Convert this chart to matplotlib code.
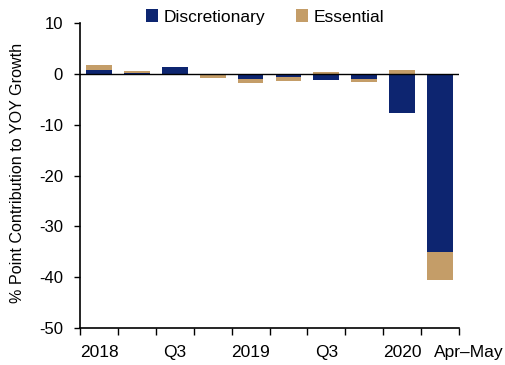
import numpy as np
import matplotlib.pyplot as plt
from matplotlib.transforms import ScaledTranslation

plt.rcParams['font.family'] = ['Liberation Sans', 'DejaVu Sans']
plt.rcParams['font.size'] = 12
plt.rcParams['axes.unicode_minus'] = False

periods = ["2018 Q1", "2018 Q2", "2018 Q3", "2018 Q4", "2019 Q1", "2019 Q2",
           "2019 Q3", "2019 Q4", "2020 Q1", "Apr-May"]
tick_labels = ["2018", "", "Q3", "", "2019", "", "Q3", "", "2020", "Apr\u2013May"]
discretionary = [0.9, 0.2, 1.3, -0.2, -1.0, -0.6, -1.1, -0.9, -7.7, -35.0]
essential = [0.8, 0.4, 0.0, -0.5, -0.8, -0.8, 0.5, -0.6, 0.9, -5.5]

navy = "#0D2570"
tan = "#C49D68"

disc = np.array(discretionary)
ess = np.array(essential)
# stack each series on its own side of zero
ess_base = np.where((ess >= 0) == (disc >= 0), disc, 0.0)

fig = plt.figure(figsize=(5.05, 3.65), dpi=100)
ax = fig.add_axes([80 / 505, 1 - 328 / 365, 379 / 505, (328 - 23.3) / 365])

x = np.arange(len(periods))
ax.bar(x, disc, width=0.68, color=navy, label="Discretionary", zorder=2)
ax.bar(x, ess, width=0.68, bottom=ess_base, color=tan, label="Essential", zorder=2)
ax.axhline(0, color="black", lw=1, zorder=3)

ax.set_xlim(-0.5, len(periods) - 0.5)
ax.set_ylim(-50, 10)
ax.set_yticks(np.arange(-50, 11, 10))
ax.set_xticks(x)
ax.set_xticklabels(tick_labels, fontsize=12.5)
ax.set_xticks(np.arange(-0.5, len(periods), 1), minor=True)
ax.tick_params(axis="x", which="major", length=0, pad=12)
ax.tick_params(axis="x", which="minor", length=5, width=1)
ax.tick_params(axis="y", length=4.3, width=1, pad=8)

# last label sits to the right of its slot so it clears "2020"
last = ax.get_xticklabels()[-1]
last.set_ha("left")
last.set_transform(last.get_transform() + ScaledTranslation(-6 / 100, 0, fig.dpi_scale_trans))

for side in ["top", "right"]:
    ax.spines[side].set_visible(False)
for side in ["left", "bottom"]:
    ax.spines[side].set_linewidth(1.2)

ax.set_ylabel("% Point Contribution to YOY Growth", fontsize=11.6)
ax.yaxis.set_label_coords(-0.145, 0.51)

fig.legend(loc="center", bbox_to_anchor=(265 / 505, 1 - 17 / 365), ncol=2,
           frameon=False, fontsize=12.5, handlelength=0.7, handleheight=0.7,
           handletextpad=0.3, columnspacing=1.8, borderpad=0)

fig.savefig("out.png", dpi=100)
